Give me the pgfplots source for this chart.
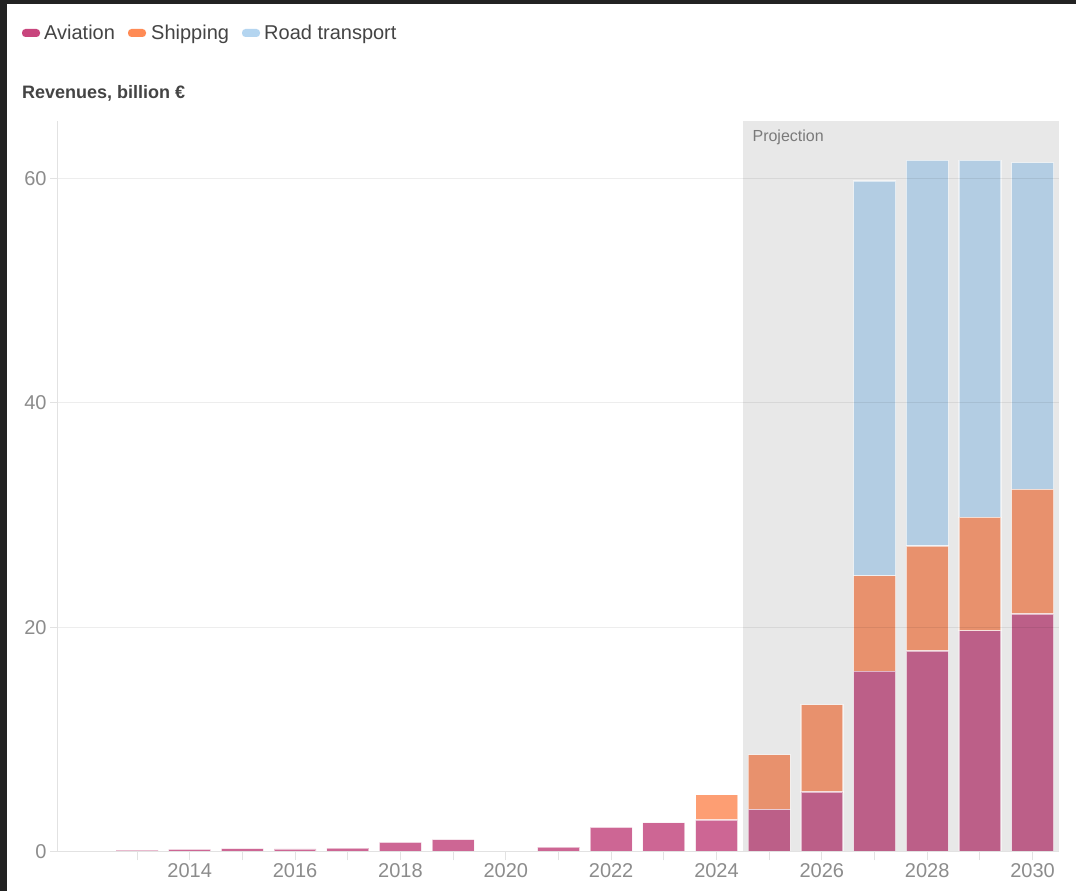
\documentclass[border=0pt]{standalone}
\usepackage{fontspec}
\setmainfont{Liberation Sans}
\usepackage{pgfplots}
\pgfplotsset{compat=1.18}
\definecolor{darkbg}{HTML}{222222}
\definecolor{avH}{HTML}{CD6694}
\definecolor{avP}{HTML}{BC5F88}
\definecolor{shH}{HTML}{FD9E73}
\definecolor{shP}{HTML}{E8916D}
\definecolor{rdP}{HTML}{B3CDE3}
\definecolor{legAv}{HTML}{C8457D}
\definecolor{legSh}{HTML}{FF8B55}
\definecolor{legRd}{HTML}{B4D5F0}
\definecolor{txt}{HTML}{444444}
\definecolor{labgray}{HTML}{8C8C8C}
\definecolor{axgray}{HTML}{E2E2E2}
\definecolor{projgray}{HTML}{E8E8E8}
\definecolor{projtxt}{HTML}{7A7A7A}
\pgfplotsset{geom/.style={at={(58pt,39pt)}, anchor=south west,
  scale only axis, width=1001pt, height=731pt,
  xmin=2011.5, xmax=2030.5, ymin=0, ymax=65.1}}
\begin{document}
\begin{tikzpicture}[x=1pt,y=1pt]
\fill[darkbg] (0,0) rectangle (1076,891);
\fill[white] (7,0) rectangle (1076,887);
\useasboundingbox (0,0) rectangle (1076,891);
% legend
\fill[legAv, rounded corners=3.5pt] (22,854) rectangle (40,862);
\node[anchor=base west, inner sep=0, text=txt, font=\fontsize{20}{24}\selectfont] at (44,851) {Aviation};
\fill[legSh, rounded corners=3.5pt] (128,854) rectangle (146,862);
\node[anchor=base west, inner sep=0, text=txt, font=\fontsize{20}{24}\selectfont] at (151,851) {Shipping};
\fill[legRd, rounded corners=3.5pt] (242,854) rectangle (260,862);
\node[anchor=base west, inner sep=0, text=txt, font=\fontsize{20}{24}\selectfont] at (264,851) {Road transport};
% title
\node[anchor=base west, inner sep=0, text=txt, font=\bfseries\fontsize{18}{22}\selectfont] at (22,792.5) {Revenues, billion €};
% background axis: projection shading
\begin{axis}[geom, hide axis]
\fill[projgray] (axis cs:2024.5,0) rectangle (axis cs:2030.5,65.1);
\node[anchor=base west, inner sep=0, text=projtxt, font=\fontsize{16}{19}\selectfont] at (axis cs:2024.68,63.3) {Projection};
\end{axis}
\begin{axis}[
  geom,
  ybar stacked, bar width=42pt,
  axis on top,
  axis x line*=bottom, axis y line*=left,
  axis line style={draw=axgray, line width=1pt, -},
  ymajorgrids, grid style={black, opacity=0.07, line width=1pt},
  ytick={0,20,40,60},
  xtick={2013,2014,...,2030},
  xticklabels={,2014,,2016,,2018,,2020,,2022,,2024,,2026,,2028,,2030},
  tick align=outside, major tick length=8pt,
  tick style={draw=axgray, line width=1pt},
  ticklabel style={font=\fontsize{20}{24}\selectfont, text=labgray},
  /pgf/number format/assume math mode=true,
  every axis plot/.append style={draw=white, draw opacity=0.55, line width=1.2pt},
]
% Aviation historical
\addplot[fill=avH] coordinates {(2013,0.17) (2014,0.24) (2015,0.3) (2016,0.27) (2017,0.34) (2018,0.85) (2019,1.1) (2020,0) (2021,0.44) (2022,2.2) (2023,2.6) (2024,2.85) (2025,0) (2026,0) (2027,0) (2028,0) (2029,0) (2030,0)};
% Aviation projection
\addplot[fill=avP] coordinates {(2013,0) (2014,0) (2015,0) (2016,0) (2017,0) (2018,0) (2019,0) (2020,0) (2021,0) (2022,0) (2023,0) (2024,0) (2025,3.8) (2026,5.35) (2027,16.1) (2028,17.9) (2029,19.7) (2030,21.2)};
% Shipping historical
\addplot[fill=shH] coordinates {(2013,0) (2014,0) (2015,0) (2016,0) (2017,0) (2018,0) (2019,0) (2020,0) (2021,0) (2022,0) (2023,0) (2024,2.25) (2025,0) (2026,0) (2027,0) (2028,0) (2029,0) (2030,0)};
% Shipping projection
\addplot[fill=shP] coordinates {(2013,0) (2014,0) (2015,0) (2016,0) (2017,0) (2018,0) (2019,0) (2020,0) (2021,0) (2022,0) (2023,0) (2024,0) (2025,4.85) (2026,7.75) (2027,8.5) (2028,9.35) (2029,10.1) (2030,11.1)};
% Road transport projection
\addplot[fill=rdP] coordinates {(2013,0) (2014,0) (2015,0) (2016,0) (2017,0) (2018,0) (2019,0) (2020,0) (2021,0) (2022,0) (2023,0) (2024,0) (2025,0) (2026,0) (2027,35.15) (2028,34.35) (2029,31.8) (2030,29.1)};
\end{axis}
\end{tikzpicture}
\end{document}
